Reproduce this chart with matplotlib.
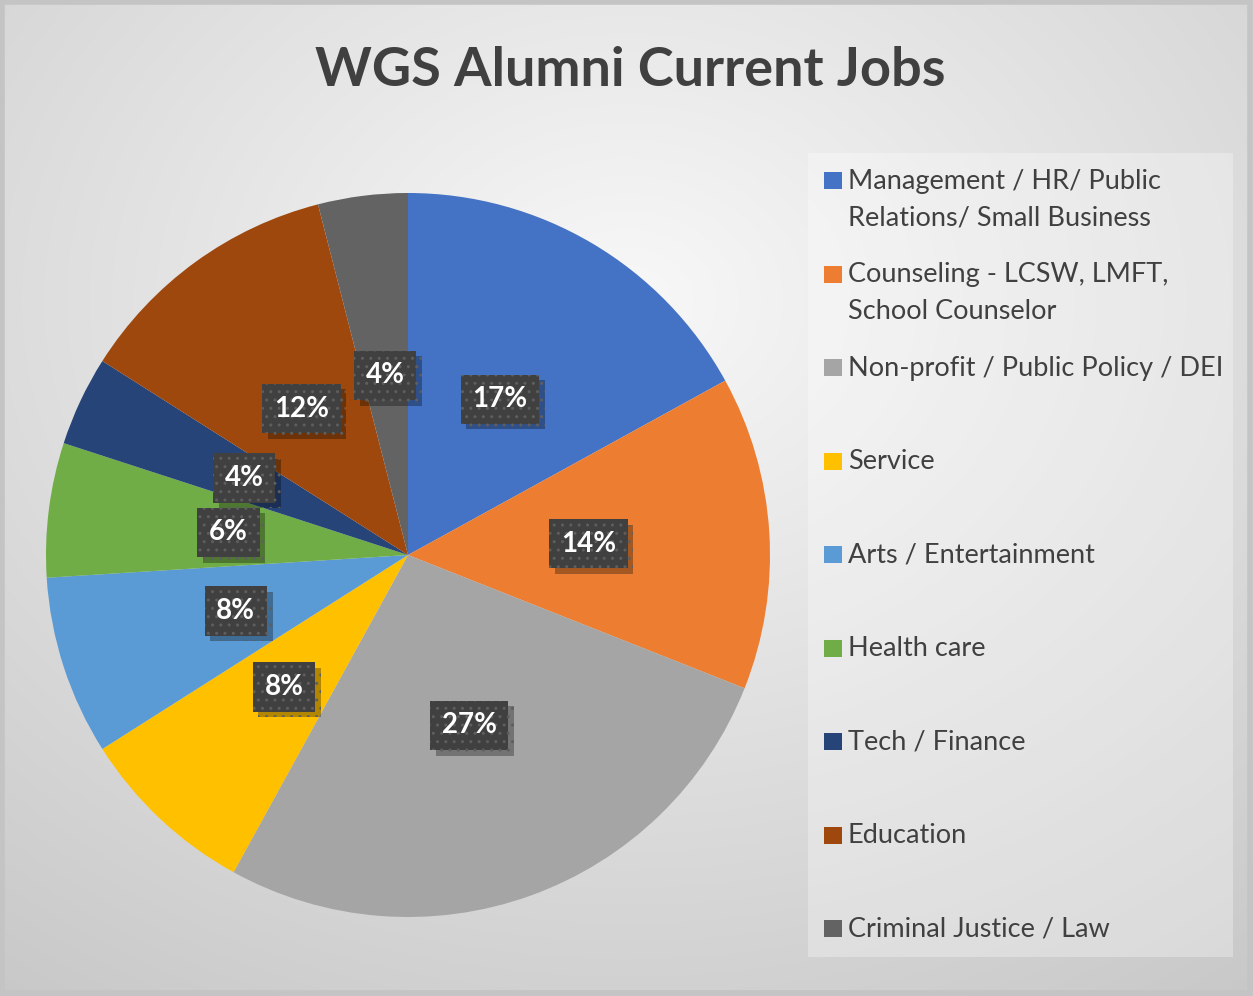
import numpy as np
import matplotlib
matplotlib.use("Agg")
import matplotlib.pyplot as plt
import matplotlib.patheffects as pe
from matplotlib.patches import Rectangle

plt.rcParams['font.family'] = ['Lato', 'DejaVu Sans']

categories = [
    "Management / HR/ Public\nRelations/ Small Business",
    "Counseling - LCSW, LMFT,\nSchool Counselor",
    "Non-profit / Public Policy / DEI",
    "Service",
    "Arts / Entertainment",
    "Health care",
    "Tech / Finance",
    "Education",
    "Criminal Justice / Law",
]
shares = [17, 14, 27, 8, 8, 6, 4, 12, 4]
colors = ['#4472C4', '#ED7D31', '#A5A5A5', '#FFC000', '#5B9BD5',
          '#70AD47', '#264478', '#9E480E', '#636363']
title = "WGS Alumni Current Jobs"

W, H = 1253, 996
fig = plt.figure(figsize=(W / 100, H / 100), dpi=100)

# background: soft radial gradient + thin frame
bg = fig.add_axes([0, 0, 1, 1])
bg.set_xlim(0, W)
bg.set_ylim(H, 0)
bg.axis('off')
yy, xx = np.mgrid[0:H, 0:W]
d = np.sqrt(((xx - 626) / (W / 2)) ** 2 + ((yy - 300) / (H / 2)) ** 2)
shade = np.clip(248 - 28 * d, 0, 255) / 255
bg.imshow(np.dstack([shade] * 3), extent=(0, W, H, 0), zorder=0)
bg.add_patch(Rectangle((2, 2), W - 5, H - 5, fill=False, ec='#c4c4c4', lw=4, zorder=1))

bg.text(630, 70, title, fontsize=39, fontweight='bold', color='#404040',
        ha='center', va='center')

# legend panel drawn by hand
bg.add_patch(Rectangle((808, 153), 425, 804, fc='white', alpha=0.3, ec='none', zorder=1))
row_step = 93.5
for i, (lab, c) in enumerate(zip(categories, colors)):
    y = 181 + i * row_step
    bg.add_patch(Rectangle((824, y - 9), 18, 17, fc=c, ec='none', zorder=2))
    for j, line in enumerate(lab.split('\n')):
        bg.text(848, y + j * 37, line, fontsize=19.5, color='#404040',
                ha='left', va='center', zorder=3)

# pie
ax = fig.add_axes([(408 - 362) / W, (H - 555 - 362) / H, 724 / W, 724 / H])
wedges, texts, autotexts = ax.pie(
    shares, colors=colors, startangle=90, counterclock=False,
    autopct='%1.0f%%', pctdistance=0.5,
    wedgeprops=dict(linewidth=0))
ax.set_xlim(-1, 1)
ax.set_ylim(-1, 1)
ax.set_aspect('equal')

for t in autotexts:
    t.set_fontsize(20)
    t.set_fontweight('bold')
    t.set_color('white')
    t.set_zorder(5)
    t.set_bbox(dict(boxstyle='square,pad=0.42', fc='#404040', ec='#5e5e5e',
                    lw=0, hatch='..'))
    t.get_bbox_patch().set_path_effects(
        [pe.withSimplePatchShadow(offset=(4, -4), shadow_rgbFace='black', alpha=0.3)])

fig.savefig('out.png', dpi=100)
